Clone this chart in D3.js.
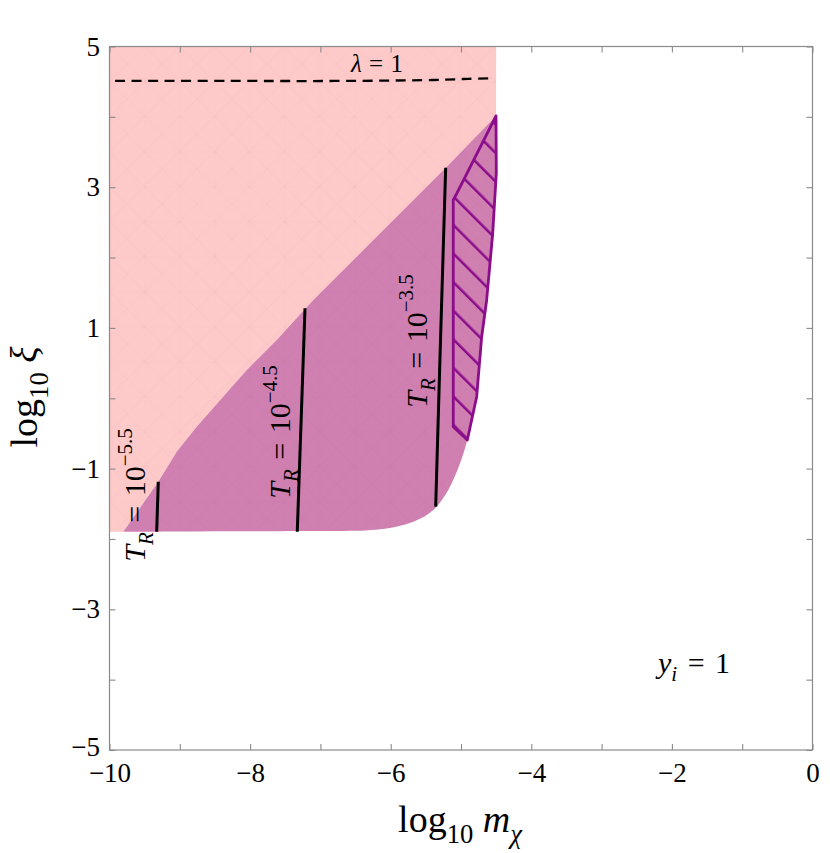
<!DOCTYPE html>
<html>
<head>
<meta charset="utf-8">
<script src="https://cdn.jsdelivr.net/npm/d3@7"></script>
<style>
  body { margin: 0; background: #fff; }
  svg text { font-family: "Liberation Serif", "DejaVu Serif", serif; white-space: pre; }
</style>
</head>
<body>
<svg id="chart" width="830" height="853"></svg>
<script>
// boundary between the pink and purple regions (log10 m, log10 xi)
const upperEdge = [[-9.804,-1.897],[-9.519,-1.493],[-9.306,-1.186],[-9.044,-0.760],[-8.760,-0.404],
  [-8.428,-0.027],[-8.048,0.402],[-7.622,0.828],[-7.101,1.397],[-5.203,3.291],[-4.502,4.012]];
// right + bottom edge of the purple region, top to bottom-left
const lowerEdge = [[-4.502,4.012],[-4.498,3.198],[-4.549,2.345],[-4.635,1.397],[-4.706,0.875],
  [-4.777,0.022],[-4.910,-0.594],[-5.014,-0.925],[-5.181,-1.304],[-5.394,-1.588],[-5.678,-1.755],
  [-6.152,-1.863],[-7.290,-1.887],[-8.713,-1.894],[-9.804,-1.897]];
// pink region corners not on the purple edge
const pinkCorners = [[-10,-1.897],[-10,5],[-4.5,5]];
// hatched strip (left edge, then right edge going up)
const hatchEdge = [[-4.502,4.012],[-5.072,2.889],[-5.11,2.82],[-5.11,-0.404],[-4.91,-0.594],
  [-4.777,0.022],[-4.706,0.875],[-4.635,1.397],[-4.549,2.345],[-4.498,3.198]];
// T_R contours
const trLines = [
  {label: '−5.5', pts: [[-9.329,-1.897],[-9.306,-1.186]], at: [-9.495,-1.375]},
  {label: '−4.5', pts: [[-7.329,-1.897],[-7.219,1.279]], at: [-7.432,-0.48]},
  {label: '−3.5', pts: [[-5.36,-1.541],[-5.299,0.578],[-5.218,3.277]], at: [-5.484,0.814]}
];
// lambda = 1 dashed curve
const lambdaX = [-9.92, -8.0, -6.8, -5.4, -4.9, -4.55];
const lambdaY = [4.51, 4.51, 4.51, 4.524, 4.54, 4.55];
const xTickValues = [-10,-9,-8,-7,-6,-5,-4,-3,-2,-1,0];
const yTickValues = [-5,-4,-3,-2,-1,0,1,2,3,4,5];

const svg = d3.select('#chart');
const plotLeft = 109.5, plotRight = 812.5, plotTop = 46.5, plotBottom = 750;
const x = d3.scaleLinear().domain([-10, 0]).range([plotLeft, plotRight]);
const y = d3.scaleLinear().domain([-5, 5]).range([plotBottom, plotTop]);
const line = d3.line().x(d => x(d[0])).y(d => y(d[1]));
const smooth = d3.line().x(d => x(d[0])).y(d => y(d[1])).curve(d3.curveCatmullRom);

// helper for math-like text with sub/superscripts
function addMath(sel, parts, size) {
  let shift = 0;
  parts.forEach(p => {
    const target = p.s === 'sub' ? 0.28 : p.s === 'sup' ? -0.45 : 0;
    sel.append('tspan').text(p.t)
      .attr('font-size', p.s ? size * 0.7 : size)
      .attr('font-style', p.i ? 'italic' : 'normal')
      .attr('dy', (target - shift) * size);
    shift = target;
  });
  return sel;
}

const defs = svg.append('defs');
// faint mesh texture seen in the filled regions
const mesh = defs.append('pattern')
  .attr('id', 'mesh')
  .attr('patternUnits', 'userSpaceOnUse')
  .attr('width', 35).attr('height', 35)
  .attr('x', plotLeft).attr('y', plotTop);
mesh.append('path').attr('d', 'M0,0L35,35M35,0L0,35M0,0H35M0,0V35')
  .attr('stroke', '#a0306e').attr('stroke-opacity', 0.06).attr('stroke-width', 1);

// Pink region
const pinkPath = line(pinkCorners.concat(upperEdge.slice().reverse())) + 'Z';
svg.append('path').attr('d', pinkPath).attr('fill', '#fdc9c9');
svg.append('path').attr('d', pinkPath).attr('fill', 'url(#mesh)').attr('opacity', 0.6);

// Purple region
const purplePath = line(upperEdge) + smooth(lowerEdge).replace(/^M/, 'L') + 'Z';
svg.append('path').attr('d', purplePath).attr('fill', '#cf80b0');
svg.append('path').attr('d', purplePath).attr('fill', 'url(#mesh)');

// Hatched strip
defs.append('pattern')
  .attr('id', 'hatch')
  .attr('patternUnits', 'userSpaceOnUse')
  .attr('width', 20.2).attr('height', 20.2)
  .attr('patternTransform', `translate(${x(-5.11)},${y(-0.404)}) rotate(-45)`)
  .append('line')
  .attr('x1', 0).attr('y1', 0).attr('x2', 0).attr('y2', 20.2)
  .attr('stroke', '#8b0d8b').attr('stroke-width', 5);
svg.append('path')
  .attr('d', line(hatchEdge) + 'Z')
  .attr('fill', 'url(#hatch)')
  .attr('stroke', '#8b0d8b')
  .attr('stroke-width', 2.8)
  .attr('stroke-linejoin', 'round');

// T_R contour lines
trLines.forEach(t => {
  svg.append('path')
    .attr('d', line(t.pts))
    .attr('fill', 'none')
    .attr('stroke', '#000')
    .attr('stroke-width', 3);
  const txt = svg.append('text')
    .attr('transform', `translate(${x(t.at[0])},${y(t.at[1])}) rotate(-90)`)
    .attr('text-anchor', 'middle')
    .attr('word-spacing', 2);
  addMath(txt, [{t: 'T', i: true}, {t: 'R', i: true, s: 'sub'}, {t: ' = 10'}, {t: t.label, s: 'sup'}], 30);
});

// lambda = 1 dashed line
svg.append('path')
  .datum(lambdaX.map((v, i) => [v, lambdaY[i]]))
  .attr('d', smooth)
  .attr('fill', 'none')
  .attr('stroke', '#000')
  .attr('stroke-width', 2.3)
  .attr('stroke-dasharray', '10,6.5');
addMath(svg.append('text')
  .attr('x', x(-6.195)).attr('y', y(4.64))
  .attr('text-anchor', 'middle')
  .attr('word-spacing', 1),
  [{t: 'λ', i: true}, {t: ' = 1'}], 25);

// y_i = 1 note
addMath(svg.append('text').attr('x', x(-2.198)).attr('y', y(-3.905)).attr('word-spacing', 3),
  [{t: 'y', i: true}, {t: 'i', i: true, s: 'sub'}, {t: ' = 1'}], 30);

// Axes
const axisColor = '#8a8a8a';
const fmt = d3.format('');
function styleAxis(g) {
  g.select('.domain').remove();
  g.attr('font-family', null);
  g.selectAll('.tick line').attr('stroke', axisColor).attr('stroke-width', 1.1);
  g.selectAll('.tick text').attr('fill', '#000').attr('font-size', 27)
    .style('font-family', '"Liberation Serif", "DejaVu Serif", serif');
}
svg.append('g').attr('transform', `translate(0,${plotBottom})`)
  .call(d3.axisBottom(x).tickValues(xTickValues).tickSizeInner(-6).tickSizeOuter(0).tickPadding(12.5)
    .tickFormat(d => d % 2 === 0 ? fmt(d) : ''))
  .call(styleAxis);
svg.append('g').attr('transform', `translate(0,${plotTop})`)
  .call(d3.axisTop(x).tickValues(xTickValues).tickSizeInner(-6).tickSizeOuter(0).tickFormat(''))
  .call(styleAxis);
svg.append('g').attr('transform', `translate(${plotLeft},0)`)
  .call(d3.axisLeft(y).tickValues(yTickValues).tickSizeInner(-6).tickSizeOuter(0).tickPadding(9.5)
    .tickFormat(d => Math.abs(d) % 2 === 1 ? fmt(d) : ''))
  .call(styleAxis);
svg.append('g').attr('transform', `translate(${plotRight},0)`)
  .call(d3.axisRight(y).tickValues(yTickValues).tickSizeInner(-6).tickSizeOuter(0).tickFormat(''))
  .call(styleAxis);
// lift the bottom y label a touch so it clears the first x label
svg.selectAll('text').filter(function() { return this.textContent === '−5'; })
  .attr('dy', '0.2em');

// Frame
svg.append('rect')
  .attr('x', plotLeft).attr('y', plotTop)
  .attr('width', plotRight - plotLeft).attr('height', plotBottom - plotTop)
  .attr('fill', 'none').attr('stroke', axisColor).attr('stroke-width', 1.2);

// Axis titles
addMath(svg.append('text').attr('x', (plotLeft + plotRight) / 2 - 1).attr('y', 832).attr('text-anchor', 'middle'),
  [{t: 'log'}, {t: '10', s: 'sub'}, {t: ' '}, {t: 'm', i: true}, {t: 'χ', i: true, s: 'sub'}], 38);
addMath(svg.append('text').attr('transform', 'translate(37,397) rotate(-90)').attr('text-anchor', 'middle'),
  [{t: 'log'}, {t: '10', s: 'sub'}, {t: ' '}, {t: 'ξ', i: true}], 38);
</script>
</body>
</html>
